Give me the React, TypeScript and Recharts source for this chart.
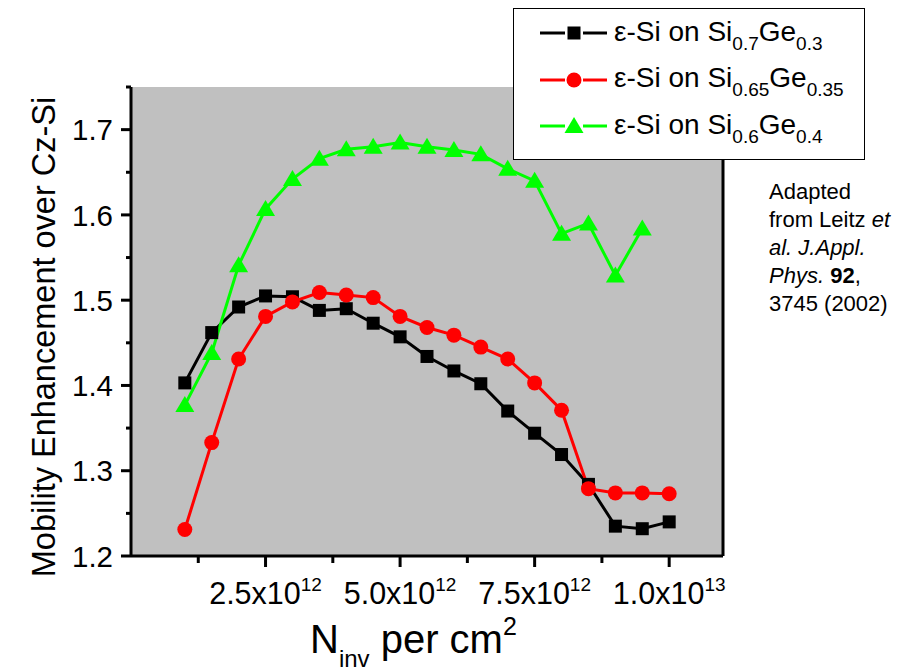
import { LineChart, Line, XAxis, YAxis, CartesianGrid, Legend } from "recharts";

// inversion charge density, cm^-2
const xValues = [
  1.0e12, 1.5e12, 2.0e12, 2.5e12, 3.0e12, 3.5e12, 4.0e12, 4.5e12, 5.0e12, 5.5e12,
  6.0e12, 6.5e12, 7.0e12, 7.5e12, 8.0e12, 8.5e12, 9.0e12, 9.5e12, 1.0e13,
];
const siGe30 = [
  1.403, 1.462, 1.492, 1.505, 1.504, 1.488, 1.49, 1.473, 1.457, 1.434,
  1.417, 1.402, 1.37, 1.344, 1.319, 1.284, 1.235, 1.232, 1.24,
];
const siGe35 = [
  1.231, 1.333, 1.431, 1.481, 1.498, 1.509, 1.506, 1.503, 1.481, 1.468,
  1.459, 1.445, 1.431, 1.403, 1.371, 1.279, 1.274, 1.274, 1.273,
];
const siGe40 = [
  1.377, 1.438, 1.541, 1.607, 1.642, 1.666, 1.677, 1.68, 1.685, 1.68,
  1.676, 1.671, 1.654, 1.64, 1.578, 1.59, 1.529, 1.584, null,
];

const xTicks = [1.25e12, 2.5e12, 3.75e12, 5e12, 6.25e12, 7.5e12, 8.75e12, 1e13];
const xMajorTicks = [2.5e12, 5e12, 7.5e12, 1e13];
const xTickMantissas = ["2.5x10", "5.0x10", "7.5x10", "1.0x10"];
const xTickExponents = ["12", "12", "12", "13"];

const yTicks = [1.2, 1.25, 1.3, 1.35, 1.4, 1.45, 1.5, 1.55, 1.6, 1.65, 1.7, 1.75];
const yMajorTicks = [1.2, 1.3, 1.4, 1.5, 1.6, 1.7];
const yTickLabels = ["1.2", "1.3", "1.4", "1.5", "1.6", "1.7"];

const series = [
  { key: "s30", values: siGe30, color: "#000000", shape: "square", sub1: "0.7", sub2: "0.3" },
  { key: "s35", values: siGe35, color: "#ff0000", shape: "circle", sub1: "0.65", sub2: "0.35" },
  { key: "s40", values: siGe40, color: "#00ff00", shape: "triangle", sub1: "0.6", sub2: "0.4" },
];

const data = xValues.map((x, i) => ({
  x,
  s30: siGe30[i],
  s35: siGe35[i],
  s40: siGe40[i],
}));

const FONT = "'Liberation Sans', Arial, Helvetica, sans-serif";

function Marker({ shape, cx, cy, color }: any) {
  if (shape === "square") {
    return <rect x={cx - 6.5} y={cy - 6.5} width={13} height={13} fill={color} />;
  }
  if (shape === "circle") {
    return <circle cx={cx} cy={cy} r={7.5} fill={color} />;
  }
  return (
    <polygon
      points={`${cx},${cy - 9} ${cx - 9.5},${cy + 7} ${cx + 9.5},${cy + 7}`}
      fill={color}
    />
  );
}

function makeDot(shape: string, color: string) {
  return (props: any) => {
    const { cx, cy, index, value } = props;
    if (value == null || cx == null || cy == null) return <g key={index} />;
    return (
      <g key={index}>
        <Marker shape={shape} cx={cx} cy={cy} color={color} />
      </g>
    );
  };
}

function BottomTick({ x, y, payload }: any) {
  const i = xMajorTicks.indexOf(payload.value);
  const major = i >= 0;
  return (
    <g>
      <line x1={x} x2={x} y1={y} y2={y + (major ? 11 : 7)} stroke="#000" strokeWidth={3} />
      {major && (
        <text x={x} y={y + 48} textAnchor="middle" fontSize={30.5} fontFamily={FONT} fill="#000">
          {xTickMantissas[i]}
          <tspan dy={-13} fontSize={19}>
            {xTickExponents[i]}
          </tspan>
        </text>
      )}
    </g>
  );
}

function LeftTick({ x, y, payload }: any) {
  const i = yMajorTicks.indexOf(payload.value);
  const major = i >= 0;
  return (
    <g>
      <line x1={x} x2={x - (major ? 10 : 5)} y1={y} y2={y} stroke="#000" strokeWidth={3} />
      {major && (
        <text x={x - 18} y={y} dy="0.36em" textAnchor="end" fontSize={29.5} fontFamily={FONT} fill="#000">
          {yTickLabels[i]}
        </text>
      )}
    </g>
  );
}

function YTitle() {
  return (
    <text
      x={55}
      y={337}
      transform="rotate(-90, 55, 337)"
      textAnchor="middle"
      fontSize={32.5}
      fontFamily={FONT}
      fill="#000"
    >
      Mobility Enhancement over Cz-Si
    </text>
  );
}

function XTitle() {
  return (
    <text x={310} y={653} fontSize={40} fontFamily={FONT} fill="#000">
      N
      <tspan dy={14} fontSize={24}>
        inv
      </tspan>
      <tspan dy={-14}> per cm</tspan>
      <tspan dy={-18} fontSize={25}>
        2
      </tspan>
    </text>
  );
}

function LegendBox() {
  return (
    <div
      style={{
        position: "relative",
        width: 350,
        height: 150,
        border: "1px solid #000",
        background: "#fff",
        fontFamily: FONT,
        color: "#000",
      }}
    >
      {series.map((s, i) => (
        <div
          key={s.key}
          style={{
            position: "absolute",
            left: 0,
            top: 1 + i * 46.5,
            height: 46,
            display: "flex",
            alignItems: "center",
            whiteSpace: "nowrap",
          }}
        >
          <svg width={100} height={46} style={{ flex: "none" }}>
            <line x1={26} x2={51} y1={23} y2={23} stroke={s.color} strokeWidth={3} />
            <line x1={69} x2={93} y1={23} y2={23} stroke={s.color} strokeWidth={3} />
            <Marker shape={s.shape} cx={60} cy={23} color={s.color} />
          </svg>
          <span style={{ fontSize: 28, lineHeight: "30px" }}>
            ε-Si on Si
            <span style={{ fontSize: 19, position: "relative", top: 9 }}>{s.sub1}</span>
            Ge
            <span style={{ fontSize: 19, position: "relative", top: 9 }}>{s.sub2}</span>
          </span>
        </div>
      ))}
    </div>
  );
}

export default function App() {
  return (
    <div style={{ position: "absolute", left: 0, top: 0, width: 905, height: 672, background: "#fff" }}>
      <LineChart
        width={905}
        height={672}
        data={data}
        margin={{ top: 87, right: 177, bottom: 56, left: 71 }}
      >
        <CartesianGrid fill="#c0c0c0" horizontal={false} vertical={false} stroke="none" />
        <XAxis
          dataKey="x"
          type="number"
          domain={[0, 1.1e13]}
          ticks={xTicks}
          tick={<BottomTick />}
          tickLine={false}
          tickSize={0}
          tickMargin={0}
          height={60}
          interval={0}
          axisLine={{ stroke: "#000", strokeWidth: 3 }}
          label={<XTitle />}
        />
        <XAxis
          xAxisId="top"
          orientation="top"
          type="number"
          domain={[0, 1.1e13]}
          ticks={xTicks}
          tick={false}
          tickSize={3}
          mirror
          height={0}
          interval={0}
          tickLine={{ stroke: "#000", strokeWidth: 2 }}
          axisLine={{ stroke: "#000", strokeWidth: 3 }}
        />
        <YAxis
          type="number"
          domain={[1.2, 1.75]}
          ticks={yTicks}
          tick={<LeftTick />}
          tickLine={false}
          tickSize={0}
          tickMargin={0}
          width={60}
          interval={0}
          axisLine={{ stroke: "#000", strokeWidth: 3 }}
          label={<YTitle />}
        />
        <YAxis
          yAxisId="right"
          orientation="right"
          type="number"
          domain={[1.2, 1.75]}
          ticks={yTicks}
          tick={false}
          tickSize={3}
          width={5}
          interval={0}
          tickLine={{ stroke: "#000", strokeWidth: 2 }}
          axisLine={{ stroke: "#000", strokeWidth: 3 }}
        />
        <Legend
          verticalAlign="middle"
          layout="horizontal"
          wrapperStyle={{ left: 513, top: 8, width: 352, height: 152 }}
          content={() => <LegendBox />}
        />
        {series.map((s) => (
          <Line
            key={s.key}
            dataKey={s.key}
            name={`ε-Si on Si${s.sub1}Ge${s.sub2}`}
            stroke={s.color}
            strokeWidth={3}
            dot={makeDot(s.shape, s.color)}
            activeDot={false}
            isAnimationActive={false}
            connectNulls={false}
          />
        ))}
      </LineChart>
      <div
        style={{
          position: "absolute",
          left: 769,
          top: 178,
          fontFamily: FONT,
          fontSize: 22,
          lineHeight: "28px",
          color: "#000",
        }}
      >
        Adapted
        <br />
        from Leitz <i>et</i>
        <br />
        <i>al. J.Appl.</i>
        <br />
        <i>Phys.</i> <b>92</b>,
        <br />
        3745 (2002)
      </div>
    </div>
  );
}
